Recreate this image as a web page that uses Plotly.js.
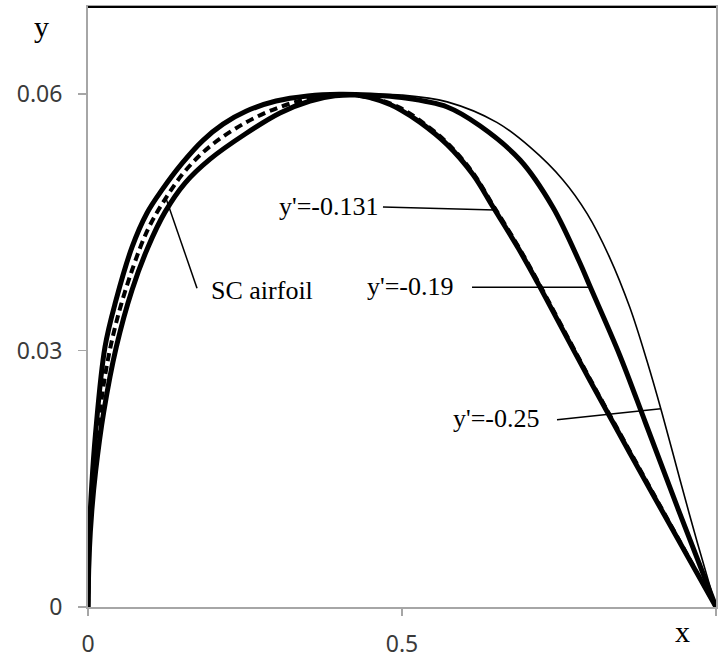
<!DOCTYPE html>
<html>
<head>
<meta charset="utf-8">
<script src="https://cdn.plot.ly/plotly-3.0.1.min.js"></script>
<style>
  html, body { margin: 0; padding: 0; background: #ffffff; }
  #chart { width: 718px; height: 658px; }
</style>
</head>
<body>
<div id="chart"></div>
<script>
// Upper-surface contours: chordwise position x and ordinate y.
// Profile with trailing-edge slope y' = -0.131
const xA = [0, 0.002, 0.006, 0.012, 0.025, 0.045, 0.0701, 0.0955, 0.1226, 0.1545, 0.1943, 0.2516, 0.3057, 0.3535, 0.3933, 0.4252, 0.449, 0.481, 0.497, 0.529, 0.572, 0.613, 0.645, 0.685, 0.717, 0.8, 0.9, 1];
const yA = [0, 0.0064, 0.0112, 0.0158, 0.0228, 0.0304, 0.0371, 0.0421, 0.0462, 0.0496, 0.0524, 0.0554, 0.0578, 0.0592, 0.0598, 0.0599, 0.0596, 0.0588, 0.0582, 0.0567, 0.0541, 0.0506, 0.0468, 0.0420, 0.0378, 0.0264, 0.0131, 0];

// Profile with trailing-edge slope y' = -0.19
const xB = [0, 0.002, 0.006, 0.012, 0.027, 0.0446, 0.0701, 0.094, 0.1178, 0.1497, 0.1831, 0.215, 0.2516, 0.2994, 0.35, 0.40, 0.45, 0.50, 0.572, 0.624, 0.688, 0.740, 0.783, 0.800, 0.847, 0.888, 0.94, 1];
const yB = [0, 0.0083, 0.0143, 0.0203, 0.0304, 0.0359, 0.0421, 0.0461, 0.0488, 0.0519, 0.0546, 0.0565, 0.0580, 0.0592, 0.0598, 0.0600, 0.0599, 0.0596, 0.0585, 0.0563, 0.0523, 0.0468, 0.0403, 0.0374, 0.0294, 0.0215, 0.0114, 0];

// Profile with trailing-edge slope y' = -0.25
const xC = [0, 0.002, 0.006, 0.012, 0.027, 0.0446, 0.0701, 0.094, 0.1178, 0.1497, 0.1831, 0.215, 0.2516, 0.2994, 0.35, 0.40, 0.45, 0.50, 0.572, 0.651, 0.704, 0.756, 0.795, 0.830, 0.863, 0.890, 0.914, 0.943, 0.970, 1];
const yC = [0, 0.0083, 0.0143, 0.0203, 0.0304, 0.0359, 0.0421, 0.0461, 0.0488, 0.0519, 0.0546, 0.0565, 0.0580, 0.0592, 0.0598, 0.0600, 0.0600, 0.0599, 0.0591, 0.0567, 0.0538, 0.0500, 0.0460, 0.0410, 0.0350, 0.0288, 0.0227, 0.0148, 0.0076, 0];

// Reference supercritical (SC) airfoil upper surface
const xS = [0, 0.002, 0.006, 0.012, 0.027, 0.045, 0.0701, 0.0955, 0.1226, 0.1545, 0.1943, 0.2516, 0.3057, 0.3535, 0.40, 0.44, 0.465, 0.497, 0.529, 0.572, 0.613, 0.645, 0.685, 0.717, 0.8, 0.9, 1];
const yS = [0, 0.0073, 0.0127, 0.0180, 0.0270, 0.0333, 0.0394, 0.0442, 0.0477, 0.0510, 0.0539, 0.0567, 0.0585, 0.0595, 0.0600, 0.0597, 0.0593, 0.0584, 0.0569, 0.0543, 0.0508, 0.0470, 0.0422, 0.0380, 0.0266, 0.0133, 0];

// Axis ticks
const xTicks = [0, 0.5, 1];
const xTickText = ['0', '0.5', '1'];
const yTicks = [0, 0.03, 0.06];
const yTickText = ['0', '0.03', '0.06'];

// Curve labels: text, where the text starts, where its leader starts,
// and the chordwise station on the labelled curve that the leader touches.
const labelText = ["y'=-0.131", "y'=-0.19", "y'=-0.25", 'SC airfoil'];
const labelX = [0.301, 0.441, 0.578, 0.1927];
const labelY = [0.0469, 0.0375, 0.0220, 0.0370];
const leaderX = [0.4697, 0.6115, 0.7468, 0.1736];
const leaderY = [0.0468, 0.0374, 0.0219, 0.0373];
const leaderTipX = [0.648, 0.800, 0.912, 0.124];

const curves = [[xA, yA], [xB, yB], [xC, yC], [xS, yS]];

function interp(xs, ys, x) {
  for (let i = 1; i < xs.length; i++) {
    if (x <= xs[i]) {
      const t = (x - xs[i - 1]) / (xs[i] - xs[i - 1]);
      return ys[i - 1] + t * (ys[i] - ys[i - 1]);
    }
  }
  return ys[ys.length - 1];
}

const smooth = 1;
const traces = [
  { x: xA, y: yA, mode: 'lines', line: { color: '#000', width: 5, shape: 'spline', smoothing: smooth }, hoverinfo: 'skip' },
  { x: xB, y: yB, mode: 'lines', line: { color: '#000', width: 5, shape: 'spline', smoothing: smooth }, hoverinfo: 'skip' },
  { x: xC, y: yC, mode: 'lines', line: { color: '#000', width: 1.6, shape: 'spline', smoothing: smooth }, hoverinfo: 'skip' },
  { x: xS, y: yS, mode: 'lines', line: { color: '#000', width: 4, dash: '8px,5px', shape: 'spline', smoothing: smooth }, hoverinfo: 'skip' }
];

const serif = 'Liberation Serif, Times New Roman, serif';

const annotations = labelText.map((t, i) => ({
  text: t, x: labelX[i], y: labelY[i], xref: 'x', yref: 'y',
  xanchor: 'left', yanchor: 'middle', showarrow: false,
  font: { family: serif, size: 26, color: '#000' }
}));
annotations.push(
  { text: 'y', x: -0.0748, y: 0.968, xref: 'paper', yref: 'paper', xanchor: 'center', yanchor: 'middle', showarrow: false, font: { family: serif, size: 30, color: '#000' } },
  { text: 'x', x: 0.946, y: -0.0400, xref: 'paper', yref: 'paper', xanchor: 'center', yanchor: 'middle', showarrow: false, font: { family: serif, size: 30, color: '#000' } }
);

const shapes = leaderTipX.map((tx, i) => {
  const c = curves[i];
  return {
    type: 'line', xref: 'x', yref: 'y',
    x0: leaderX[i], y0: leaderY[i], x1: tx, y1: interp(c[0], c[1], tx),
    line: { color: '#000', width: 1.5 }
  };
});
// dark frame edge along the top of the plot area
shapes.push({ type: 'line', xref: 'paper', yref: 'paper', x0: 0, x1: 1, y0: 1, y1: 1, line: { color: '#000', width: 2 } });

const tickFont = { family: 'Noto Sans, Open Sans, sans-serif', size: 23, color: '#3a3a3a' };

const layout = {
  width: 718, height: 658,
  margin: { l: 88, r: 2, t: 7, b: 51 },
  paper_bgcolor: '#fff', plot_bgcolor: '#fff',
  showlegend: false,
  xaxis: {
    range: [0, 1], tickvals: xTicks, ticktext: xTickText,
    ticks: 'outside', ticklen: 7, tickwidth: 1.5, tickcolor: '#a6a6a6',
    showline: true, linecolor: '#a6a6a6', linewidth: 2, mirror: true,
    showgrid: false, zeroline: false, tickfont: tickFont, ticklabelstandoff: 8,
    fixedrange: true
  },
  yaxis: {
    range: [0, 0.0702], tickvals: yTicks, ticktext: yTickText,
    ticks: 'outside', ticklen: 8, tickwidth: 1.5, tickcolor: '#a6a6a6',
    showline: true, linecolor: '#a6a6a6', linewidth: 2, mirror: true,
    showgrid: false, zeroline: false, tickfont: tickFont, ticklabelstandoff: 11,
    fixedrange: true
  },
  annotations: annotations,
  shapes: shapes
};

Plotly.newPlot('chart', traces, layout, { displayModeBar: false, staticPlot: true });
</script>
</body>
</html>
